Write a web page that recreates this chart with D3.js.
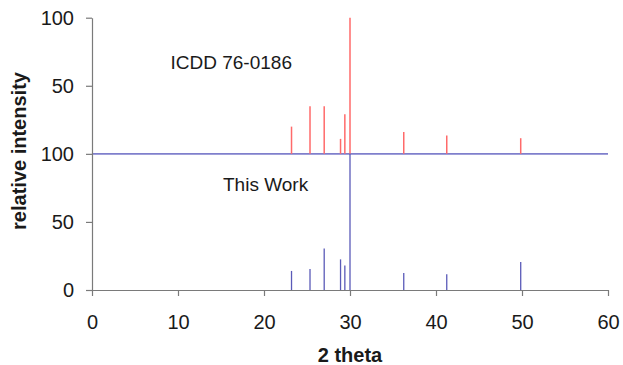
<!DOCTYPE html>
<html>
<head>
<meta charset="utf-8">
<script src="https://cdn.jsdelivr.net/npm/d3@7"></script>
<style>
  html, body { margin: 0; padding: 0; background: #fff; }
  svg { display: block; font-family: "Liberation Sans", Arial, sans-serif; }
</style>
</head>
<body>
<svg id="chart" width="623" height="365"></svg>
<script>
// ---- data ----
const twoTheta = [23.2, 25.35, 27.0, 28.9, 29.4, 30.0, 36.25, 41.25, 49.85];
const icddIntensity = [20, 35, 35, 11, 29, 100, 16, 13.5, 11.5];
const thisWorkIntensity = [14, 15.5, 30.5, 22.5, 18, 100, 12.5, 11.5, 20.5];
const xTicks = [0, 10, 20, 30, 40, 50, 60];
const yTicks = [0, 50, 100, 150, 200];
const yTickLabels = ["0", "50", "100", "50", "100"];
const labels = { top: "ICDD 76-0186", bottom: "This Work", x: "2 theta", y: "relative intensity" };

// ---- layout ----
const svg = d3.select("#chart");
const x = d3.scaleLinear().domain([0, 60]).range([92, 608]);
const y = d3.scaleLinear().domain([0, 200]).range([290, 17.7]);
const axisColor = "#7a7a7a";

// blue baseline of the upper panel
svg.append("line")
  .attr("x1", x(0)).attr("x2", x(60))
  .attr("y1", y(100)).attr("y2", y(100))
  .attr("stroke", "#7f7fcc").attr("stroke-width", 1.6);

// ICDD sticks (upper panel, offset 100)
svg.append("g").selectAll("line")
  .data(twoTheta.map((t, i) => ({ t, v: icddIntensity[i] })))
  .join("line")
  .attr("x1", d => x(d.t)).attr("x2", d => x(d.t))
  .attr("y1", y(100)).attr("y2", d => y(100 + d.v))
  .attr("stroke", "#ff6a6a").attr("stroke-width", 1.5);

// This work sticks (lower panel)
svg.append("g").selectAll("line")
  .data(twoTheta.map((t, i) => ({ t, v: thisWorkIntensity[i] })))
  .join("line")
  .attr("x1", d => x(d.t)).attr("x2", d => x(d.t))
  .attr("y1", y(0)).attr("y2", d => y(d.v))
  .attr("stroke", "#5a5ab8").attr("stroke-width", 1.3);

// axes
const xAxis = svg.append("g")
  .attr("transform", `translate(0,${y(0)})`)
  .call(d3.axisBottom(x).tickValues(xTicks).tickSize(6).tickSizeOuter(0).tickPadding(19));
const yAxis = svg.append("g")
  .attr("transform", `translate(${x(0)},0)`)
  .call(d3.axisLeft(y).tickValues(yTicks).tickSize(6).tickSizeOuter(0).tickPadding(12)
    .tickFormat((d, i) => yTickLabels[i]));

[xAxis, yAxis].forEach(g => {
  g.select(".domain").attr("stroke", axisColor).attr("stroke-width", 1.2);
  g.selectAll(".tick line").attr("stroke", axisColor).attr("stroke-width", 1.2);
  g.selectAll(".tick text")
    .attr("fill", "#1a1a1a")
    .style("font-size", "20px")
    .style("font-family", "'Liberation Sans', Arial, sans-serif");
});

// panel labels
svg.append("text")
  .attr("x", 170.5).attr("y", 69.3)
  .attr("fill", "#1a1a1a")
  .style("font-size", "19px")
  .text(labels.top);
svg.append("text")
  .attr("x", 223).attr("y", 190.7)
  .attr("fill", "#1a1a1a")
  .style("font-size", "19px")
  .text(labels.bottom);

// axis titles
svg.append("text")
  .attr("x", 350).attr("y", 362)
  .attr("text-anchor", "middle")
  .attr("fill", "#1a1a1a")
  .style("font-size", "20px").style("font-weight", "bold")
  .text(labels.x);
svg.append("text")
  .attr("transform", "translate(26,151) rotate(-90)")
  .attr("text-anchor", "middle")
  .attr("fill", "#1a1a1a")
  .style("font-size", "20px").style("font-weight", "bold")
  .text(labels.y);
</script>
</body>
</html>
